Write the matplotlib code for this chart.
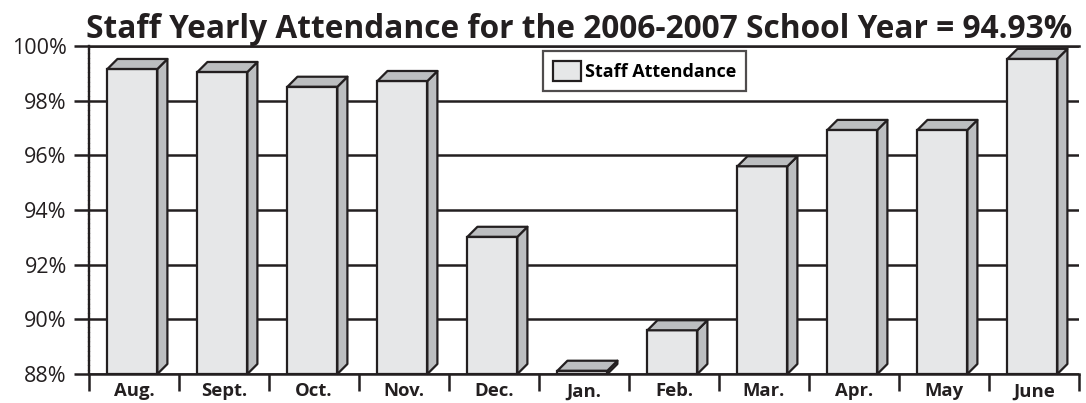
import numpy as np
import matplotlib.pyplot as plt
from matplotlib.patches import Polygon, Patch

months = ['Aug.', 'Sept.', 'Oct.', 'Nov.', 'Dec.', 'Jan.', 'Feb.', 'Mar.', 'Apr.', 'May', 'June']
attendance = [99.16, 99.05, 98.51, 98.72, 93.02, 88.12, 89.60, 95.60, 96.93, 96.93, 99.53]
yticks = [88, 90, 92, 94, 96, 98, 100]
title = 'Staff Yearly Attendance for the 2006-2007 School Year = 94.93%'
series_name = 'Staff Attendance'

FRONT = '#e6e7e8'
SIDE = '#bcbec0'
EDGE = '#231f20'
FONT = 'Open Sans'

plt.rcParams['font.family'] = [FONT, 'DejaVu Sans']

fig = plt.figure(figsize=(10.86, 4.03), dpi=100)
ax = fig.add_axes([89 / 1086, 29 / 403, 990 / 1086, 328 / 403])

ymin, ymax = 88, 100
n = len(months)
ax.set_xlim(0, n)
ax.set_ylim(ymin, ymax)

# depth of the 3d effect, in pixels -> data units
depth_px = 10
ax_w = 990
ax_h = 328
dx = depth_px * n / ax_w
dy = depth_px * (ymax - ymin) / ax_h

width = 0.555
x = np.arange(n) + 0.5
left = x - 0.295

ax.bar(left, [v - ymin for v in attendance], width=width, bottom=ymin, align='edge',
       color=FRONT, edgecolor=EDGE, linewidth=1.6, zorder=3)

for xl, v in zip(left, attendance):
    xr = xl + width
    side = Polygon([(xr, ymin), (xr + dx, ymin + dy), (xr + dx, v + dy), (xr, v)],
                   closed=True, facecolor=SIDE, edgecolor=EDGE, linewidth=1.6,
                   joinstyle='round', zorder=3, clip_on=False)
    top = Polygon([(xl, v), (xl + dx, v + dy), (xr + dx, v + dy), (xr, v)],
                  closed=True, facecolor=SIDE, edgecolor=EDGE, linewidth=1.6,
                  joinstyle='round', zorder=3, clip_on=False)
    ax.add_patch(side)
    ax.add_patch(top)

# gridlines
ax.set_yticks(yticks)
ax.set_yticklabels([f'{t}%' for t in yticks], fontsize=15.5, color=EDGE)
ax.yaxis.grid(True, color=EDGE, linewidth=1.8)
ax.set_axisbelow(True)
ax.tick_params(axis='y', length=11, width=1.8, color=EDGE, pad=5)

# x: tick marks at boundaries, labels at centers
ax.set_xticks(np.arange(n + 1))
ax.set_xticklabels([])
ax.set_xticks(x, minor=True)
ax.set_xticklabels(months, minor=True, fontsize=13.3, fontweight='bold', color=EDGE)
ax.tick_params(axis='x', which='major', length=12, width=1.8, color=EDGE, direction='out')
ax.tick_params(axis='x', which='minor', length=0, pad=6)

ax.spines['right'].set_visible(False)
ax.spines['top'].set_linewidth(1.8)
ax.spines['top'].set_color(EDGE)
ax.spines['bottom'].set_linewidth(1.8)
ax.spines['bottom'].set_color(EDGE)
ax.spines['left'].set_linestyle((0, (1.2, 0.8)))
ax.spines['left'].set_linewidth(1.7)
ax.spines['left'].set_color(EDGE)

ax.set_title(title, fontsize=22.8, fontweight='bold', color=EDGE, pad=4, x=0.495)

leg = ax.legend(handles=[Patch(facecolor=FRONT, edgecolor=EDGE, linewidth=1.6, label=series_name)],
                loc='upper left', bbox_to_anchor=(0.459, 0.984), frameon=True, fancybox=False,
                handlelength=1.55, handleheight=1.35, handletextpad=0.2, borderpad=0.55,
                borderaxespad=0, prop={'family': FONT, 'weight': 'bold', 'size': 13})
leg.get_frame().set_edgecolor(EDGE)
leg.get_frame().set_linewidth(1.6)
leg.set_zorder(5)

fig.savefig('out.png', dpi=100)
